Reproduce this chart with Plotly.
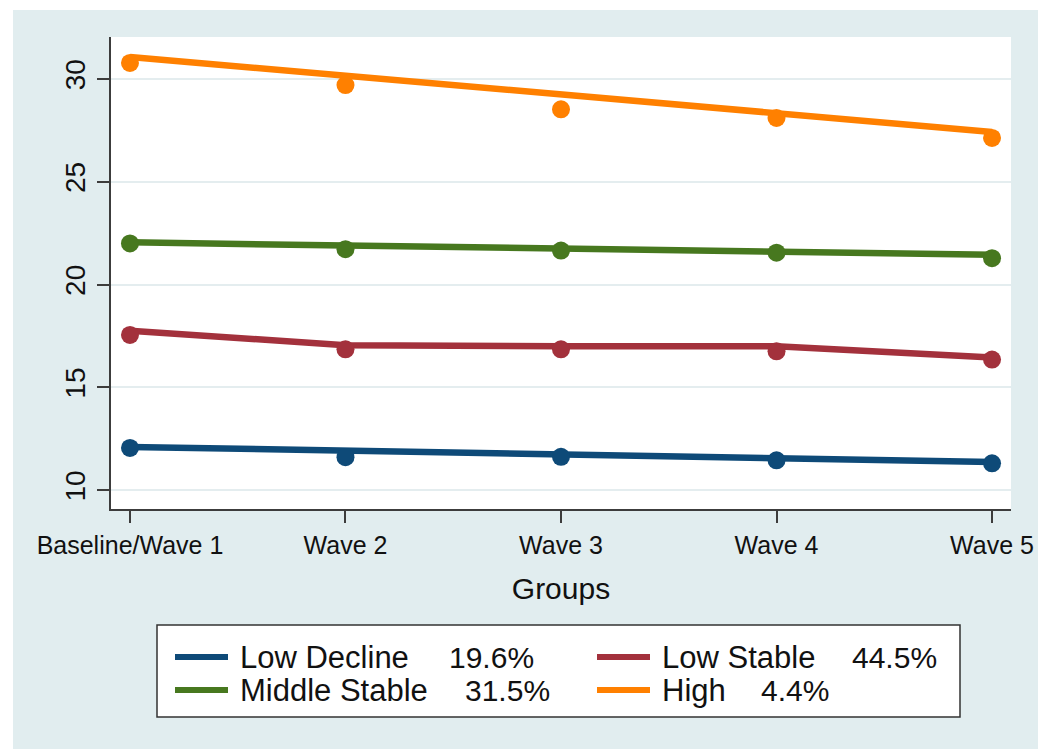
import plotly.graph_objects as go

# Survey waves on the x axis
waves = ["Baseline/Wave 1", "Wave 2", "Wave 3", "Wave 4", "Wave 5"]
wave_pos = [0, 1, 2, 3, 4]

# Trajectory groups and their shares of the sample
group_names = ["Low Decline", "Low Stable", "Middle Stable", "High"]
group_shares = ["19.6%", "44.5%", "31.5%", "4.4%"]
group_colors = ["#0E4A78", "#A3313C", "#47781F", "#FF8000"]

# Observed group means (dots)
low_decline_obs = [12.05, 11.60, 11.62, 11.45, 11.30]
low_stable_obs = [17.55, 16.85, 16.85, 16.75, 16.35]
middle_stable_obs = [22.00, 21.72, 21.65, 21.55, 21.28]
high_obs = [30.78, 29.70, 28.52, 28.10, 27.13]

# Estimated trajectories (lines)
low_decline_fit = [12.10, 11.90, 11.70, 11.55, 11.37]
low_stable_fit = [17.75, 17.05, 17.00, 17.00, 16.45]
middle_stable_fit = [22.05, 21.90, 21.75, 21.62, 21.45]
high_fit = [31.07, 30.16, 29.24, 28.33, 27.42]

observed = [low_decline_obs, low_stable_obs, middle_stable_obs, high_obs]
fitted = [low_decline_fit, low_stable_fit, middle_stable_fit, high_fit]

y_ticks = [10, 15, 20, 25, 30]

FONT = "Liberation Sans, Arial, sans-serif"
PANEL = "#E1EDEF"
AXIS = "#3C3C3C"

W, H = 1048, 749
L, R, T, B = 111, 1011, 37, 509  # plot area in pixels


def px(x):
    return (x - L) / (R - L)


def py(y):
    return (B - y) / (B - T)


fig = go.Figure()

for name, col, fit in zip(group_names, group_colors, fitted):
    fig.add_trace(go.Scatter(x=wave_pos, y=fit, mode="lines", name=name,
                             line=dict(color=col, width=6.5), showlegend=False,
                             hoverinfo="skip"))
for name, col, obs in zip(group_names, group_colors, observed):
    fig.add_trace(go.Scatter(x=wave_pos, y=obs, mode="markers", name=name,
                             marker=dict(color=col, size=18), showlegend=False))

shapes = [
    # outer graph region
    dict(type="rect", xref="paper", yref="paper", layer="below",
         x0=px(13), x1=px(1038), y0=py(760), y1=py(10),
         fillcolor=PANEL, line=dict(width=0)),
    # plot region
    dict(type="rect", xref="paper", yref="paper", layer="below",
         x0=0, x1=1, y0=0, y1=1, fillcolor="white", line=dict(width=0)),
    # legend box
    dict(type="rect", xref="paper", yref="paper", layer="below",
         x0=px(157), x1=px(960), y0=py(717), y1=py(625),
         fillcolor="white", line=dict(color="#333333", width=1.5)),
]

annotations = []
# legend: two columns, two rows
col_x = [175, 597]
row_y = [657, 690]
name_dx = 63
share_x = [447, 850, 463, 759]
for i, (name, share, col) in enumerate(zip(group_names, group_shares, group_colors)):
    cx = col_x[i % 2]
    ry = row_y[i // 2]
    shapes.append(dict(type="line", xref="paper", yref="paper",
                       x0=px(cx), x1=px(cx + 53), y0=py(ry), y1=py(ry),
                       line=dict(color=col, width=6)))
    annotations.append(dict(xref="paper", yref="paper", x=px(cx + name_dx), y=py(ry),
                            text=name, showarrow=False, xanchor="left", yanchor="middle",
                            font=dict(family=FONT, size=31, color="#111111")))
    annotations.append(dict(xref="paper", yref="paper", x=px(share_x[i]), y=py(ry),
                            text=share, showarrow=False, xanchor="left", yanchor="middle",
                            font=dict(family=FONT, size=30, color="#111111")))

fig.update_layout(
    width=W, height=H,
    margin=dict(l=L, r=W - R, t=T, b=H - B, pad=0),
    paper_bgcolor="white",
    plot_bgcolor="white",
    font=dict(family=FONT, color="#111111"),
    shapes=shapes,
    annotations=annotations,
    showlegend=False,
    xaxis=dict(
        range=[-0.088, 4.088], tickvals=wave_pos, ticktext=waves,
        showgrid=False, zeroline=False,
        showline=True, linecolor=AXIS, linewidth=1.5,
        ticks="outside", ticklen=12, tickwidth=1.5, tickcolor=AXIS,
        tickfont=dict(family=FONT, size=25, color="#111111"),
        ticklabelstandoff=1,
        title=dict(text="Groups", font=dict(family=FONT, size=30, color="#111111"),
                   standoff=20),
    ),
    yaxis=dict(
        range=[9.08, 32.04], tickvals=y_ticks,
        showgrid=True, gridcolor="#E4EDEF", gridwidth=1.5,
        zeroline=False,
        showline=True, linecolor=AXIS, linewidth=1.5,
        ticks="outside", ticklen=12, tickwidth=1.5, tickcolor=AXIS,
        tickangle=-90,
        tickfont=dict(family=FONT, size=28, color="#111111"),
        ticklabelstandoff=1,
    ),
)

fig.write_html("out.html")
